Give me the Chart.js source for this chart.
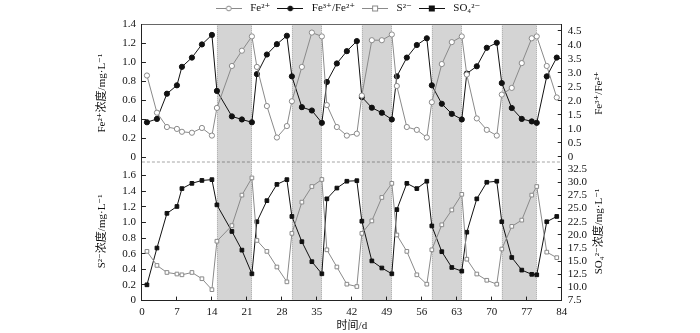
<!DOCTYPE html>
<html>
<head>
<meta charset="utf-8">
<script src="https://cdn.jsdelivr.net/npm/chart.js@4"></script>
<style>
  html, body { margin: 0; padding: 0; background: #fff; }
  #wrap { width: 700px; height: 333px; }
</style>
</head>
<body>
<div id="wrap"><canvas id="chart"></canvas></div>
<script>
// ── Data ─────────────────────────────────────────────────────────
const days = [1, 3, 5, 7, 8, 10, 12, 14, 15, 18, 20, 22,
              23, 25, 27, 29, 30, 32, 34, 36,
              37, 39, 41, 43, 44, 46, 48, 50,
              51, 53, 55, 57, 58, 60, 62, 64,
              65, 67, 69, 71, 72, 74, 76, 78, 79,
              81, 83];

// Fe2+ concentration, mg/L (top panel, left axis)
const fe2 = [0.86, 0.47, 0.32, 0.30, 0.27, 0.26, 0.31, 0.23, 0.52, 0.96, 1.12, 1.27,
             0.95, 0.54, 0.21, 0.33, 0.59, 0.95, 1.31, 1.27,
             0.55, 0.32, 0.23, 0.25, 0.65, 1.23, 1.23, 1.29,
             0.75, 0.32, 0.29, 0.21, 0.58, 0.98, 1.21, 1.27,
             0.87, 0.41, 0.29, 0.23, 0.66, 0.73, 0.99, 1.25, 1.27,
             0.96, 0.63];

// Fe3+/Fe2+ ratio (top panel, right axis)
const feRatio = [1.23, 1.35, 2.25, 2.55, 3.21, 3.54, 4.01, 4.35, 2.35, 1.44, 1.33, 1.23,
                 2.95, 3.65, 4.02, 4.32, 2.87, 1.77, 1.65, 1.21,
                 2.67, 3.33, 3.77, 4.13, 2.13, 1.75, 1.57, 1.33,
                 2.87, 3.54, 3.99, 4.23, 2.55, 1.89, 1.53, 1.33,
                 2.97, 3.23, 3.89, 4.07, 2.63, 1.74, 1.35, 1.26, 1.21,
                 2.87, 3.54];

// S2- concentration, mg/L (bottom panel, left axis)
const s2 = [0.63, 0.45, 0.36, 0.34, 0.33, 0.36, 0.28, 0.14, 0.76, 0.96, 1.35, 1.57,
            0.77, 0.63, 0.43, 0.24, 0.86, 1.26, 1.46, 1.55,
            0.65, 0.43, 0.21, 0.18, 0.86, 1.02, 1.32, 1.50,
            0.84, 0.63, 0.33, 0.21, 0.65, 0.97, 1.16, 1.36,
            0.53, 0.34, 0.26, 0.21, 0.66, 0.95, 1.03, 1.35, 1.46,
            0.62, 0.55];

// SO4 2- concentration, mg/L (bottom panel, right axis)
const so4 = [10.5, 17.5, 24.1, 25.4, 28.8, 29.8, 30.35, 30.5, 25.7, 20.65, 17.1, 12.6,
             22.5, 26.5, 29.6, 30.5, 23.5, 18.7, 14.9, 12.6,
             26.85, 28.9, 30.2, 30.3, 22.6, 15.05, 13.7, 12.6,
             24.8, 29.8, 28.8, 30.2, 21.7, 16.8, 13.8, 13.1,
             20.5, 26.85, 30.0, 30.2, 22.5, 15.7, 13.3, 12.5, 12.4,
             22.5, 23.5];

// shaded periods (start day, end day)
const shadeRanges = [[15, 22], [30, 36], [44, 50], [58, 64], [72, 79]];

// panel divider level on the Fe2+ axis (dashed line between panels)
const splitLevel = -0.05;

const seriesNames = ['Fe²⁺', 'Fe³⁺/Fe²⁺', 'S²⁻', 'SO₄²⁻'];

// ── Styling ──────────────────────────────────────────────────────
const GRAY = '#8a8a8a';
const BLACK = '#111';
const FONT = '"Liberation Serif", "DejaVu Serif", "Noto Sans CJK SC", serif';

const pts = (ys) => days.map((d, i) => ({ x: d, y: ys[i] }));

/** Small canvas used as a legend icon: a line with a marker in the middle. */
function legendIcon(color, shape, filled) {
  const c = document.createElement('canvas');
  c.width = 26; c.height = 9;
  const g = c.getContext('2d');
  g.strokeStyle = color; g.lineWidth = 1;
  g.beginPath(); g.moveTo(0, 4.5); g.lineTo(26, 4.5); g.stroke();
  g.fillStyle = filled ? color : '#fff';
  if (shape === 'circle') {
    g.beginPath(); g.arc(13, 4.5, 2.4, 0, Math.PI * 2); g.fill(); g.stroke();
  } else {
    g.fillRect(10.5, 2, 5, 5); g.strokeRect(10.5, 2, 5, 5);
  }
  return c;
}
const icons = [
  legendIcon(GRAY, 'circle', false),
  legendIcon(BLACK, 'circle', true),
  legendIcon(GRAY, 'rect', false),
  legendIcon(BLACK, 'rect', true),
];

function lineSet(label, data, axis, color, style, filled) {
  return {
    label, data: pts(data), yAxisID: axis,
    borderColor: color, borderWidth: 1,
    pointStyle: style, pointRadius: 2.6,
    pointBorderColor: color, pointBorderWidth: 1,
    pointBackgroundColor: filled ? color : '#fff',
    tension: 0,
  };
}

// ── Plugins: shaded periods, right-hand axis titles ──────────────
const shadePlugin = {
  id: 'shade',
  beforeDraw(chart) {
    const { ctx, chartArea: a, scales: { x } } = chart;
    ctx.save();
    for (const [s, e] of shadeRanges) {
      const x0 = x.getPixelForValue(s), x1 = x.getPixelForValue(e);
      ctx.fillStyle = '#d4d4d4';
      ctx.fillRect(x0, a.top, x1 - x0, a.bottom - a.top);
      ctx.strokeStyle = '#b4b4b4'; ctx.setLineDash([1, 1]);
      ctx.beginPath();
      ctx.moveTo(Math.round(x0) + 0.5, a.top); ctx.lineTo(Math.round(x0) + 0.5, a.bottom);
      ctx.moveTo(Math.round(x1) - 0.5, a.top); ctx.lineTo(Math.round(x1) - 0.5, a.bottom);
      ctx.stroke();
    }
    ctx.restore();
  },
};

const rightTitles = { yRatio: 'Fe³⁺/Fe²⁺', ySO4: 'SO₄²⁻浓度/mg·L⁻¹' };
const rightTitlePlugin = {
  id: 'rightTitles',
  afterDraw(chart) {
    const { ctx } = chart;
    ctx.save();
    ctx.fillStyle = '#111';
    ctx.font = '11px ' + FONT;
    ctx.textAlign = 'center';
    ctx.textBaseline = 'middle';
    for (const [id, text] of Object.entries(rightTitles)) {
      const s = chart.scales[id];
      ctx.save();
      ctx.translate(599, (s.top + s.bottom) / 2);
      ctx.rotate(-Math.PI / 2);
      ctx.fillText(text, 0, 0);
      ctx.restore();
    }
    ctx.restore();
  },
};

// ── Axis helpers ─────────────────────────────────────────────────
const tickFont = { family: FONT, size: 11 };
const innerGrid = { drawOnChartArea: false, drawTicks: true, tickLength: -4, tickColor: '#222', tickWidth: 1 };
const axisBorder = { display: true, color: '#222', width: 1 };

function yAxis(position, min, max, step, fmt, title) {
  return {
    type: 'linear', position, stack: position, stackWeight: 1,
    min, max,
    grid: innerGrid, border: axisBorder,
    ticks: {
      stepSize: step, includeBounds: false, autoSkip: false,
      padding: 10, color: '#111', font: tickFont,
      callback: (v) => (v < min + 1e-9 && v < 0 ? null : fmt(v)),
    },
    title: title
      ? { display: true, text: title, color: '#111', font: { family: FONT, size: 11 }, padding: { top: 0, bottom: 3 } }
      : { display: false },
  };
}
const oneDec = (v) => (Math.abs(v) < 1e-9 ? '0' : v.toFixed(1));

// ── Chart ────────────────────────────────────────────────────────
new Chart(document.getElementById('chart'), {
  type: 'line',
  data: {
    datasets: [
      lineSet(seriesNames[0], fe2, 'yFe', GRAY, 'circle', false),
      lineSet(seriesNames[1], feRatio, 'yRatio', BLACK, 'circle', true),
      lineSet(seriesNames[2], s2, 'yS', GRAY, 'rect', false),
      lineSet(seriesNames[3], so4, 'ySO4', BLACK, 'rect', true),
      {
        label: 'divider', yAxisID: 'yFe',
        data: [{ x: 0, y: splitLevel }, { x: 84, y: splitLevel }],
        borderColor: '#222', borderWidth: 1, borderDash: [3, 2], pointRadius: 0,
      },
    ],
  },
  options: {
    responsive: true,
    maintainAspectRatio: false,
    animation: false,
    layout: { padding: { left: 96, right: 103, top: -1, bottom: 0 } },
    plugins: {
      tooltip: { enabled: false },
      legend: {
        position: 'top',
        labels: {
          usePointStyle: true, pointStyleWidth: 32, boxHeight: 9,
          padding: 4, color: '#111', font: { family: FONT, size: 11 },
          filter: (item) => item.datasetIndex < 4,
          generateLabels(chart) {
            const items = Chart.defaults.plugins.legend.labels.generateLabels(chart);
            return items.map((it) => ({ ...it, pointStyle: icons[it.datasetIndex] || 'line' }));
          },
        },
      },
    },
    scales: {
      x: {
        type: 'linear', position: 'bottom', min: 0, max: 84,
        grid: innerGrid, border: axisBorder,
        ticks: { stepSize: 7, autoSkip: false, maxRotation: 0, padding: 9, color: '#111', font: tickFont },
        title: { display: true, text: '时间/d', color: '#111', font: { family: FONT, size: 11 }, padding: { top: -8, bottom: 0 } },
      },
      xTop: {
        type: 'linear', position: 'top', min: 0, max: 84,
        grid: { display: false, drawTicks: false },
        border: { display: true, color: '#666', width: 1 },
        ticks: { display: false },
      },
      yS: yAxis('left', 0, 1.77, 0.2, oneDec, 'S²⁻浓度/mg·L⁻¹'),
      yFe: yAxis('left', splitLevel, 1.4, 0.2, oneDec, 'Fe²⁺浓度/mg·L⁻¹'),
      yRatio: yAxis('right', -0.2, 4.74, 0.5, oneDec, null),
      ySO4: yAxis('right', 7.5, 33.8, 2.5, (v) => v.toFixed(1), null),
    },
  },
  plugins: [shadePlugin, rightTitlePlugin],
});
</script>
</body>
</html>
